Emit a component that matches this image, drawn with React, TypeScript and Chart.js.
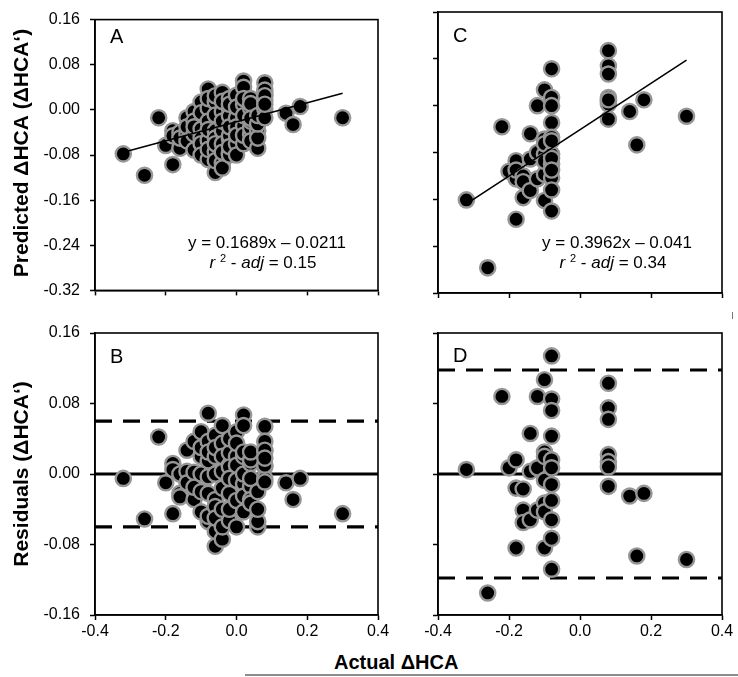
import React, { useEffect, useRef } from 'react';
import { Chart, registerables } from 'chart.js';

Chart.register(...registerables);

const FONT = '"Liberation Sans", Arial, Helvetica, sans-serif';

// ---------- Panel A: actual vs predicted (first model) ----------
const actualA = [
  -0.32, -0.26, -0.22, -0.20,
  -0.18, -0.18, -0.18,
  -0.16, -0.16, -0.16,
  -0.14, -0.14, -0.14, -0.14,
  -0.12, -0.12, -0.12, -0.12, -0.12,
  -0.10, -0.10, -0.10, -0.10, -0.10, -0.10,
  -0.08, -0.08, -0.08, -0.08, -0.08, -0.08, -0.08, -0.08,
  -0.06, -0.06, -0.06, -0.06, -0.06, -0.06, -0.06, -0.06, -0.06,
  -0.04, -0.04, -0.04, -0.04, -0.04, -0.04, -0.04, -0.04, -0.04,
  -0.02, -0.02, -0.02, -0.02, -0.02, -0.02, -0.02, -0.02, -0.02, -0.02,
  0.00, 0.00, 0.00, 0.00, 0.00, 0.00, 0.00,
  0.02, 0.02, 0.02, 0.02, 0.02, 0.02, 0.02, 0.02,
  0.04, 0.04, 0.04, 0.04, 0.04, 0.04, 0.04, 0.04,
  0.06, 0.06, 0.06, 0.06, 0.06,
  0.08, 0.08, 0.08, 0.08, 0.08, 0.08, 0.08, 0.08,
  0.14, 0.16, 0.18, 0.30,
];
const predictedA = [
  -0.078, -0.116, -0.014, -0.063,
  -0.037, -0.046, -0.097,
  -0.068, -0.040, -0.050,
  -0.014, -0.043, -0.030, -0.055,
  -0.003, -0.043, -0.071, -0.020, -0.030,
  0.014, -0.034, -0.005, -0.050, -0.060, -0.080,
  0.037, 0.003, -0.054, -0.088, -0.020, -0.035, -0.070, 0.020,
  0.014, -0.009, -0.037, -0.074, -0.111, 0.025, -0.050, -0.090, -0.060,
  0.031, -0.003, -0.037, -0.094, 0.015, -0.060, -0.075, -0.020, -0.103,
  0.003, -0.011, -0.051, -0.077, -0.046, -0.080, 0.020, -0.030, -0.065, 0.010,
  0.026, -0.014, -0.060, -0.080, 0.005, -0.030, -0.045,
  0.051, 0.040, -0.028, -0.060, 0.010, -0.010, -0.045, 0.020,
  0.020, 0.003, -0.043, -0.032, 0.011, -0.020, -0.055, -0.015,
  -0.068, -0.037, -0.050, -0.025, -0.010,
  0.048, 0.028, 0.017, 0.002, -0.014, 0.035, 0.025, 0.010,
  -0.006, -0.026, 0.006, -0.014,
];

// ---------- Panel B: residuals (first model) ----------
const actualB = [
  -0.32, -0.26, -0.22, -0.20,
  -0.18, -0.18, -0.18,
  -0.16, -0.16, -0.16,
  -0.14, -0.14, -0.14,
  -0.12, -0.12, -0.12, -0.12,
  -0.10, -0.10, -0.10, -0.10, -0.10, -0.10,
  -0.08, -0.08, -0.08, -0.08, -0.08, -0.08, -0.08, -0.08,
  -0.06, -0.06, -0.06, -0.06, -0.06, -0.06, -0.06, -0.06, -0.06,
  -0.04, -0.04, -0.04, -0.04, -0.04, -0.04, -0.04, -0.04,
  -0.02, -0.02, -0.02, -0.02, -0.02, -0.02, -0.02, -0.02,
  0.00, 0.00, 0.00, 0.00, 0.00, 0.00, 0.00,
  0.02, 0.02, 0.02, 0.02, 0.02, 0.02, 0.02, 0.02,
  0.04, 0.04, 0.04, 0.04, 0.04, 0.04, 0.04,
  0.06, 0.06, 0.06, 0.06,
  0.08, 0.08, 0.08, 0.08, 0.08, 0.08, 0.08, 0.08, 0.08,
  0.14, 0.16, 0.18, 0.30,
];
const residualB = [
  -0.005, -0.051, 0.042, -0.010,
  0.012, 0.005, -0.045,
  -0.022, -0.026, 0.000,
  0.027, 0.003, -0.010,
  0.037, -0.029, 0.002, -0.015,
  0.048, 0.020, -0.043, 0.000, -0.020, 0.030,
  0.069, 0.037, -0.003, -0.022, -0.054, -0.048, 0.015, 0.025,
  0.044, 0.020, -0.029, -0.065, -0.082, -0.037, 0.030, 0.000, -0.050,
  0.055, -0.074, 0.003, -0.016, 0.035, 0.020, -0.040, -0.060,
  -0.022, 0.010, 0.024, -0.053, 0.008, -0.005, 0.040, -0.040,
  0.048, -0.060, -0.007, 0.020, 0.010, -0.030, 0.035,
  0.067, 0.055, -0.011, -0.043, 0.020, 0.000, 0.025, -0.025,
  0.012, -0.014, -0.029, 0.016, -0.033, 0.025, -0.005,
  -0.060, -0.054, -0.020, -0.040,
  0.054, 0.037, 0.026, 0.008, -0.005, 0.027, 0.010, -0.009, 0.018,
  -0.010, -0.029, -0.005, -0.045,
];

// ---------- Panel C: actual vs predicted (second model) ----------
const actualC = [
  -0.32, -0.26, -0.22, -0.20,
  -0.18, -0.18, -0.18, -0.18,
  -0.16, -0.16, -0.16,
  -0.14, -0.14, -0.14,
  -0.12, -0.12, -0.12,
  -0.10, -0.10, -0.10, -0.10, -0.10, -0.10, -0.10,
  -0.08, -0.08, -0.08, -0.08, -0.08, -0.08, -0.08, -0.08, -0.08, -0.08, -0.08, -0.08, -0.08,
  0.08, 0.08, 0.08, 0.08, 0.08, 0.08, 0.08, 0.08,
  0.14, 0.16, 0.18, 0.30,
];
const predictedC = [
  -0.161, -0.277, -0.036, -0.112,
  -0.194, -0.094, -0.125, -0.110,
  -0.157, -0.120, -0.130,
  -0.048, -0.091, -0.145,
  0.000, -0.125, -0.080,
  0.027, -0.057, -0.083, -0.162, -0.117, -0.065, -0.095,
  0.063, 0.014, 0.000, -0.029, -0.054, -0.083, -0.100, -0.123, -0.144, -0.180, -0.060, -0.090, -0.110,
  0.094, 0.068, 0.054, 0.014, 0.008, 0.003, -0.023, 0.010,
  -0.010, -0.067, 0.010, -0.018,
];

// ---------- Panel D: residuals (second model) ----------
const actualD = [
  -0.32, -0.26, -0.22, -0.20,
  -0.18, -0.18, -0.18,
  -0.16, -0.16, -0.16,
  -0.14, -0.14, -0.14,
  -0.12, -0.12, -0.12,
  -0.10, -0.10, -0.10, -0.10, -0.10, -0.10, -0.10,
  -0.08, -0.08, -0.08, -0.08, -0.08, -0.08, -0.08, -0.08, -0.08, -0.08, -0.08,
  0.08, 0.08, 0.08, 0.08, 0.08, 0.08, 0.08,
  0.14, 0.16, 0.18, 0.30,
];
const residualD = [
  0.005, -0.135, 0.088, 0.007,
  0.016, -0.016, -0.084,
  -0.017, -0.041, -0.055,
  0.046, 0.003, -0.052,
  0.088, 0.007, -0.041,
  0.107, 0.025, 0.020, -0.007, -0.033, -0.043, -0.084,
  0.134, 0.085, 0.072, 0.043, 0.016, 0.007, -0.012, -0.030, -0.052, -0.073, -0.108,
  0.103, 0.075, 0.062, 0.022, 0.014, 0.008, -0.014,
  -0.025, -0.093, -0.022, -0.097,
];

// ---------- fits, limits, axes ----------
const fitA = { slope: 0.1689, intercept: -0.0211, r2adj: '0.15', label: 'y = 0.1689x \u2013 0.0211' };
const fitC = { slope: 0.3962, intercept: -0.041, r2adj: '0.34', label: 'y = 0.3962x \u2013 0.041' };
const fitRange = [-0.32, 0.30];
const limitsB = [0.06, -0.06];
const limitsD = [0.118, -0.118];
const xRange = [-0.4, 0.4];
const xStep = 0.2;
const yRangeTop = [-0.32, 0.16];
const yRangeBottom = [-0.16, 0.16];
const yStep = 0.08;
const yTitleTop = 'Predicted \u0394HCA (\u0394HCA\u2018)';
const yTitleBottom = 'Residuals (\u0394HCA\u2018)';
const xTitle = 'Actual \u0394HCA';

type Pt = { x: number; y: number };
const pairs = (xs: number[], ys: number[]): Pt[] => xs.map((x, i) => ({ x, y: ys[i] }));
const fitLine = (f: { slope: number; intercept: number }): Pt[] =>
  fitRange.map((x) => ({ x, y: f.slope * x + f.intercept }));
const hLine = (y: number): Pt[] => xRange.map((x) => ({ x, y }));

interface Spec {
  left: number; top: number; w: number; h: number;
  pad: { left: number; top: number; right: number; bottom: number };
  yWidth: number; xHeight: number;
  yRange: number[]; showY: boolean; showX: boolean;
  points: Pt[];
  fit?: { slope: number; intercept: number; r2adj: string; label: string };
  limits?: number[];
  letter: string; letterPos: [number, number];
  eqPos?: { cx1: number; y1: number; cx2: number; y2: number };
  yTitle?: { text: string; x: number; y: number };
}

const fmt = (v: number, d: number) => (Math.abs(v) < 1e-9 ? (0).toFixed(d) : v.toFixed(d));

function buildConfig(s: Spec): any {
  const datasets: any[] = [];
  datasets.push({
    data: s.points,
    pointRadius: 7.6,
    pointHoverRadius: 7.6,
    backgroundColor: '#000',
    borderColor: '#969696',
    borderWidth: 2.4,
    pointBackgroundColor: '#000',
    pointBorderColor: '#969696',
    pointBorderWidth: 2.4,
    showLine: false,
    order: s.fit ? 1 : 0,
  });
  if (s.fit) {
    datasets.push({
      data: fitLine(s.fit), showLine: true, pointRadius: 0, borderColor: '#000',
      borderWidth: 1.6, fill: false, order: 0,
    });
  }
  if (s.limits) {
    datasets.push({
      data: hLine(0), showLine: true, pointRadius: 0, borderColor: '#000',
      borderWidth: 3.2, fill: false, order: 2,
    });
    s.limits.forEach((l) =>
      datasets.push({
        data: hLine(l), showLine: true, pointRadius: 0, borderColor: '#000',
        borderWidth: 3.2, borderDash: [17, 11], fill: false, order: 2,
      })
    );
  }

  const decor = {
    id: 'decor',
    afterDraw(chart: any) {
      const ctx = chart.ctx as CanvasRenderingContext2D;
      const a = chart.chartArea;
      ctx.save();
      ctx.strokeStyle = '#000';
      ctx.lineWidth = 1.6;
      ctx.strokeRect(a.left, a.top, a.right - a.left, a.bottom - a.top);
      ctx.fillStyle = '#000';
      ctx.textAlign = 'left';
      ctx.textBaseline = 'alphabetic';
      ctx.font = `20px ${FONT}`;
      ctx.fillText(s.letter, s.letterPos[0], s.letterPos[1]);
      if (s.fit && s.eqPos) {
        const e = s.eqPos;
        ctx.font = `17px ${FONT}`;
        ctx.textAlign = 'center';
        ctx.fillText(s.fit.label, e.cx1, e.y1);
        const normal = `17px ${FONT}`;
        const italic = `italic 17px ${FONT}`;
        const pieces = [
          { t: 'r', f: italic, dy: 0 },
          { t: ' ', f: normal, dy: 0 },
          { t: '2', f: `11px ${FONT}`, dy: -6 },
          { t: ' - ', f: normal, dy: 0 },
          { t: 'adj', f: italic, dy: 0 },
          { t: ' = ' + s.fit.r2adj, f: normal, dy: 0 },
        ];
        let total = 0;
        const widths = pieces.map((p) => {
          ctx.font = p.f;
          const w = ctx.measureText(p.t).width;
          total += w;
          return w;
        });
        let x = e.cx2 - total / 2;
        ctx.textAlign = 'left';
        pieces.forEach((p, i) => {
          ctx.font = p.f;
          ctx.fillText(p.t, x, e.y2 + p.dy);
          x += widths[i];
        });
      }
      if (s.yTitle) {
        ctx.save();
        ctx.translate(s.yTitle.x, s.yTitle.y);
        ctx.rotate(-Math.PI / 2);
        ctx.font = `bold 21px ${FONT}`;
        ctx.textAlign = 'center';
        ctx.textBaseline = 'alphabetic';
        ctx.fillText(s.yTitle.text, 0, 0);
        ctx.restore();
      }
      ctx.restore();
    },
  };

  const gridCfg = {
    display: true, drawOnChartArea: false, drawTicks: true, tickLength: 5,
    tickColor: '#000', tickWidth: 1.5, color: '#000',
  };

  return {
    type: 'scatter',
    data: { datasets },
    options: {
      animation: false,
      responsive: false,
      devicePixelRatio: 1,
      events: [],
      layout: { padding: s.pad },
      plugins: { legend: { display: false }, tooltip: { enabled: false }, title: { display: false } },
      scales: {
        x: {
          type: 'linear', min: xRange[0], max: xRange[1],
          ticks: {
            stepSize: xStep, display: s.showX, color: '#000', padding: 2, maxRotation: 0, autoSkip: false,
            font: { family: FONT, size: 16 }, callback: (v: number) => fmt(v, 1),
          },
          grid: gridCfg,
          border: { display: true, color: '#000', width: 1.6 },
          afterFit: (sc: any) => { sc.height = s.xHeight; },
        },
        y: {
          type: 'linear', min: s.yRange[0], max: s.yRange[1],
          ticks: {
            stepSize: yStep, display: s.showY, color: '#000', padding: 10, autoSkip: false,
            font: { family: FONT, size: 16 }, callback: (v: number) => fmt(v, 2),
          },
          grid: gridCfg,
          border: { display: true, color: '#000', width: 1.6 },
          afterFit: (sc: any) => { sc.width = s.yWidth; },
        },
      },
    },
    plugins: [decor],
  };
}

const specs: Spec[] = [
  {
    left: 0, top: 0, w: 405, h: 310,
    pad: { left: 0, top: 12, right: 27, bottom: 0 }, yWidth: 95, xHeight: 17,
    yRange: yRangeTop, showY: true, showX: false,
    points: pairs(actualA, predictedA), fit: fitA,
    letter: 'A', letterPos: [110, 43],
    eqPos: { cx1: 267, y1: 248, cx2: 263, y2: 268 },
    yTitle: { text: yTitleTop, x: 28, y: 153 },
  },
  {
    left: 405, top: 0, w: 333, h: 310,
    pad: { left: 0, top: 12, right: 16, bottom: 0 }, yWidth: 33, xHeight: 17,
    yRange: yRangeTop, showY: false, showX: false,
    points: pairs(actualC, predictedC), fit: fitC,
    letter: 'C', letterPos: [48, 42],
    eqPos: { cx1: 212, y1: 248, cx2: 208, y2: 268 },
  },
  {
    left: 0, top: 310, w: 405, h: 340,
    pad: { left: 0, top: 23, right: 27, bottom: 0 }, yWidth: 95, xHeight: 35,
    yRange: yRangeBottom, showY: true, showX: true,
    points: pairs(actualB, residualB), limits: limitsB,
    letter: 'B', letterPos: [110, 53],
    yTitle: { text: yTitleBottom, x: 28, y: 164 },
  },
  {
    left: 405, top: 310, w: 333, h: 340,
    pad: { left: 0, top: 23, right: 16, bottom: 0 }, yWidth: 33, xHeight: 35,
    yRange: yRangeBottom, showY: false, showX: true,
    points: pairs(actualD, residualD), limits: limitsD,
    letter: 'D', letterPos: [48, 52],
  },
];

function Panel({ spec }: { spec: Spec }) {
  const ref = useRef<HTMLCanvasElement>(null);
  useEffect(() => {
    const chart = new Chart(ref.current as HTMLCanvasElement, buildConfig(spec));
    return () => chart.destroy();
  }, [spec]);
  return (
    <canvas
      ref={ref}
      width={spec.w}
      height={spec.h}
      style={{ position: 'absolute', left: spec.left, top: spec.top, width: spec.w, height: spec.h }}
    />
  );
}

export default function App() {
  return (
    <div style={{ position: 'absolute', left: 0, top: 0, width: 738, height: 677, background: '#fff', overflow: 'hidden' }}>
      {specs.map((s, i) => (
        <Panel key={i} spec={s} />
      ))}
      <div
        style={{
          position: 'absolute', left: 334, top: 652, fontFamily: FONT, fontWeight: 'bold',
          fontSize: 20, lineHeight: '20px', color: '#000', whiteSpace: 'nowrap',
        }}
      >
        {xTitle}
      </div>
      <div style={{ position: 'absolute', left: 245, top: 674, width: 493, height: 2, background: '#8c8c8c' }} />
      <div style={{ position: 'absolute', left: 732, top: 312, width: 1, height: 7, background: '#777' }} />
    </div>
  );
}
